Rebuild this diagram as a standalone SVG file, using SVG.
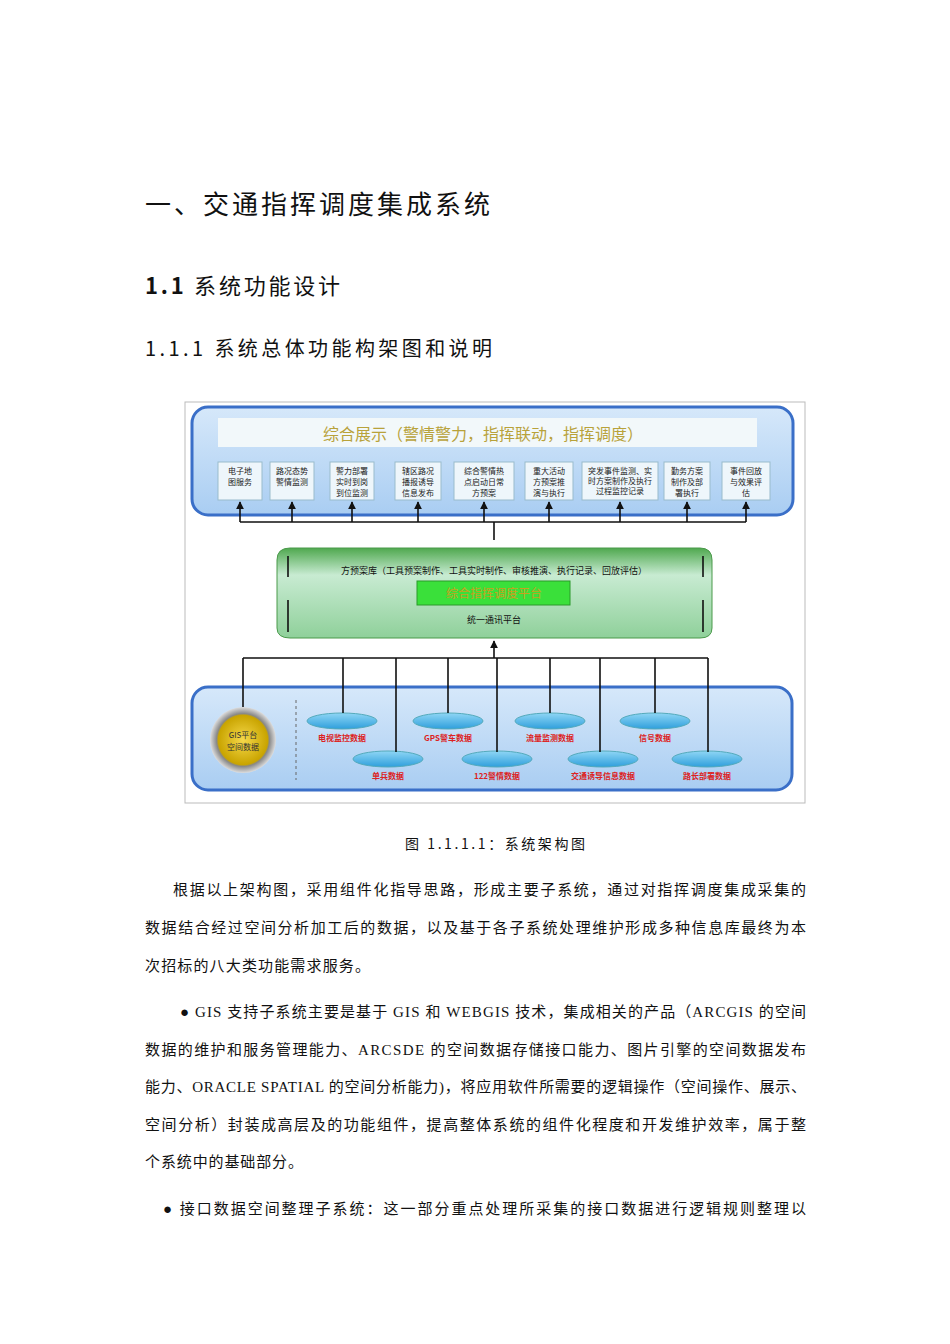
<svg xmlns="http://www.w3.org/2000/svg" width="950" height="1344" viewBox="0 0 950 1344">
<style>
text{font-family:"Liberation Serif","Noto Sans CJK SC",serif;fill:#111}
.h{font-family:"Noto Sans CJK SC",sans-serif}
.p{font-size:15px}
.b{font-family:"Noto Sans CJK SC",sans-serif;font-size:8px;text-anchor:middle;fill:#222}
.db{font-family:"Noto Sans CJK SC",sans-serif;font-size:8px;text-anchor:middle;fill:#d22;font-weight:bold}
.ln{stroke:#111;stroke-width:1.6;fill:none}
.box{fill:#eef6fb;stroke:#9bc;stroke-width:1}
</style>
<defs>
<marker id="ar" viewBox="0 0 10 10" refX="9" refY="5" markerWidth="5" markerHeight="5" orient="auto"><path d="M0,0L10,5L0,10z" fill="#111"/></marker>
<linearGradient id="bl" x1="0" y1="0" x2="0" y2="1"><stop offset="0" stop-color="#d6e8fa"/><stop offset="1" stop-color="#a9cdf2"/></linearGradient>
<linearGradient id="gr" x1="0" y1="0" x2="0" y2="1"><stop offset="0" stop-color="#4fa84f"/><stop offset="0.3" stop-color="#c8ebd2"/><stop offset="1" stop-color="#8fd09a"/></linearGradient>
<linearGradient id="cy" x1="0" y1="0" x2="0" y2="1"><stop offset="0" stop-color="#8fd6f5"/><stop offset="1" stop-color="#2f9fdc"/></linearGradient>
<radialGradient id="gd"><stop offset="0" stop-color="#f5d84a"/><stop offset="0.75" stop-color="#c9a400"/><stop offset="0.8" stop-color="#888"/><stop offset="1" stop-color="#ddd"/></radialGradient>
</defs>
<rect width="950" height="1344" fill="#fff"/>
<text class="h" x="145" y="214" font-size="26" textLength="345">一、交通指挥调度集成系统</text>
<text class="h" x="145" y="294" font-size="22" textLength="195"><tspan font-weight="bold">1.1</tspan> 系统功能设计</text>
<text class="h" x="145" y="356" font-size="20" textLength="347">1.1.1 系统总体功能构架图和说明</text>
<rect x="185" y="402" width="620" height="401" fill="#fff" stroke="#bbb"/>
<g id="top">
<rect x="192" y="407" width="601" height="108" rx="16" fill="url(#bl)" stroke="#3a6fc8" stroke-width="3"/>
<rect x="218" y="418" width="539" height="29" fill="#f2f8fa"/>
<text x="483" y="440" font-size="16" text-anchor="middle" class="h" style="fill:#b8a23a">综合展示（警情警力，指挥联动，指挥调度）</text>
</g>
<g id="boxes">
<rect class="box" x="218" y="462" width="44" height="38"/><text class="b" x="240" y="474">电子地</text><text class="b" x="240" y="485">图服务</text>
<rect class="box" x="270" y="462" width="44" height="38"/><text class="b" x="292" y="474">路况态势</text><text class="b" x="292" y="485">警情监测</text>
<rect class="box" x="330" y="462" width="44" height="38"/><text class="b" x="352" y="474">警力部署</text><text class="b" x="352" y="485">实时到岗</text><text class="b" x="352" y="496">到位监测</text>
<rect class="box" x="395" y="462" width="46" height="38"/><text class="b" x="418" y="474">辖区路况</text><text class="b" x="418" y="485">播报诱导</text><text class="b" x="418" y="496">信息发布</text>
<rect class="box" x="454" y="462" width="60" height="38"/><text class="b" x="484" y="474">综合警情热</text><text class="b" x="484" y="485">点启动日常</text><text class="b" x="484" y="496">方预案</text>
<rect class="box" x="525" y="462" width="48" height="38"/><text class="b" x="549" y="474">重大活动</text><text class="b" x="549" y="485">方预案推</text><text class="b" x="549" y="496">演与执行</text>
<rect class="box" x="582" y="462" width="76" height="38"/><text class="b" x="620" y="474" font-size="7">突发事件监测、实</text><text class="b" x="620" y="484" font-size="7">时方案制作及执行</text><text class="b" x="620" y="494" font-size="7">过程监控记录</text>
<rect class="box" x="664" y="462" width="46" height="38"/><text class="b" x="687" y="474">勤务方案</text><text class="b" x="687" y="485">制作及部</text><text class="b" x="687" y="496">署执行</text>
<rect class="box" x="722" y="462" width="48" height="38"/><text class="b" x="746" y="474">事件回放</text><text class="b" x="746" y="485">与效果评</text><text class="b" x="746" y="496">估</text>
</g>
<g id="mid">
<path d="M290,548 L700,548 Q712,548 712,560 L712,628 Q712,638 700,638 L290,638 Q277,638 277,628 L277,560 Q277,548 290,548z" fill="url(#gr)" stroke="#4a9a4a"/>
<path class="ln" d="M288,556V577M703,556V577M288,600V632M703,600V632" stroke-width="1"/>
<text x="494" y="574" font-size="9" text-anchor="middle" class="h">方预案库（工具预案制作、工具实时制作、审核推演、执行记录、回放评估）</text>
<rect x="417" y="581" width="153" height="24" fill="#3ae03a" stroke="#2a9a2a"/>
<text x="494" y="598" font-size="12" text-anchor="middle" class="h" style="fill:#c8a020">综合指挥调度平台</text>
<text x="494" y="623" font-size="9" text-anchor="middle" class="h">统一通讯平台</text>
</g>
<g id="bottom">
<rect x="192" y="687" width="600" height="103" rx="16" fill="url(#bl)" stroke="#3a6fc8" stroke-width="3"/>
<line x1="296" y1="700" x2="296" y2="780" stroke="#666" stroke-dasharray="3,3"/>
<circle cx="243" cy="740" r="33" fill="url(#gd)"/>
<text class="b" x="243" y="738" style="fill:#333">GIS平台</text><text class="b" x="243" y="750" style="fill:#333">空间数据</text>
</g>
<g id="dbs">
<g fill="url(#cy)" stroke="#5ab">
<ellipse cx="342" cy="721" rx="35" ry="8"/><ellipse cx="448" cy="721" rx="35" ry="8"/><ellipse cx="550" cy="721" rx="35" ry="8"/><ellipse cx="655" cy="721" rx="35" ry="8"/>
<ellipse cx="388" cy="759" rx="35" ry="8"/><ellipse cx="497" cy="759" rx="35" ry="8"/><ellipse cx="603" cy="759" rx="35" ry="8"/><ellipse cx="707" cy="759" rx="35" ry="8"/>
</g>
<text class="db" x="342" y="741">电视监控数据</text><text class="db" x="448" y="741">GPS警车数据</text><text class="db" x="550" y="741">流量监测数据</text><text class="db" x="655" y="741">信号数据</text>
<text class="db" x="388" y="779">单兵数据</text><text class="db" x="497" y="779">122警情数据</text><text class="db" x="603" y="779">交通诱导信息数据</text><text class="db" x="707" y="779">路长部署数据</text>
</g>
<g id="connectors">
<path class="ln" d="M494,540V522M240,522H746"/>
<path class="ln" marker-end="url(#ar)" d="M240,522V502"/>
<path class="ln" marker-end="url(#ar)" d="M292,522V502"/>
<path class="ln" marker-end="url(#ar)" d="M352,522V502"/>
<path class="ln" marker-end="url(#ar)" d="M418,522V502"/>
<path class="ln" marker-end="url(#ar)" d="M484,522V502"/>
<path class="ln" marker-end="url(#ar)" d="M549,522V502"/>
<path class="ln" marker-end="url(#ar)" d="M620,522V502"/>
<path class="ln" marker-end="url(#ar)" d="M687,522V502"/>
<path class="ln" marker-end="url(#ar)" d="M746,522V502"/>
<path class="ln" marker-end="url(#ar)" d="M494,658V641"/>
<path class="ln" d="M243,658H708M243,658V707M343,658V713M396,658V752M448,658V713M497,658V752M550,658V713M600,658V752M655,658V713M708,658V752"/>
</g>
<text class="h" x="405" y="849" font-size="14" textLength="180">图 1.1.1.1：系统架构图</text>
<text class="p" x="173" y="895" textLength="633">根据以上架构图，采用组件化指导思路，形成主要子系统，通过对指挥调度集成采集的</text>
<text class="p" x="145" y="933" textLength="661">数据结合经过空间分析加工后的数据，以及基于各子系统处理维护形成多种信息库最终为本</text>
<text class="p" x="145" y="971" textLength="225">次招标的八大类功能需求服务。</text>
<text class="p" x="180" y="1017" textLength="626">●  GIS 支持子系统主要是基于 GIS  和 WEBGIS 技术，集成相关的产品（ARCGIS 的空间</text>
<text class="p" x="145" y="1055" textLength="661">数据的维护和服务管理能力、ARCSDE  的空间数据存储接口能力、图片引擎的空间数据发布</text>
<text class="p" x="145" y="1092" textLength="661">能力、ORACLE SPATIAL 的空间分析能力)，将应用软件所需要的逻辑操作（空间操作、展示、</text>
<text class="p" x="145" y="1130" textLength="661">空间分析）封装成高层及的功能组件，提高整体系统的组件化程度和开发维护效率，属于整</text>
<text class="p" x="145" y="1167" textLength="158">个系统中的基础部分。</text>
<text class="p" x="163" y="1214" textLength="643">●  接口数据空间整理子系统：这一部分重点处理所采集的接口数据进行逻辑规则整理以</text>
</svg>
